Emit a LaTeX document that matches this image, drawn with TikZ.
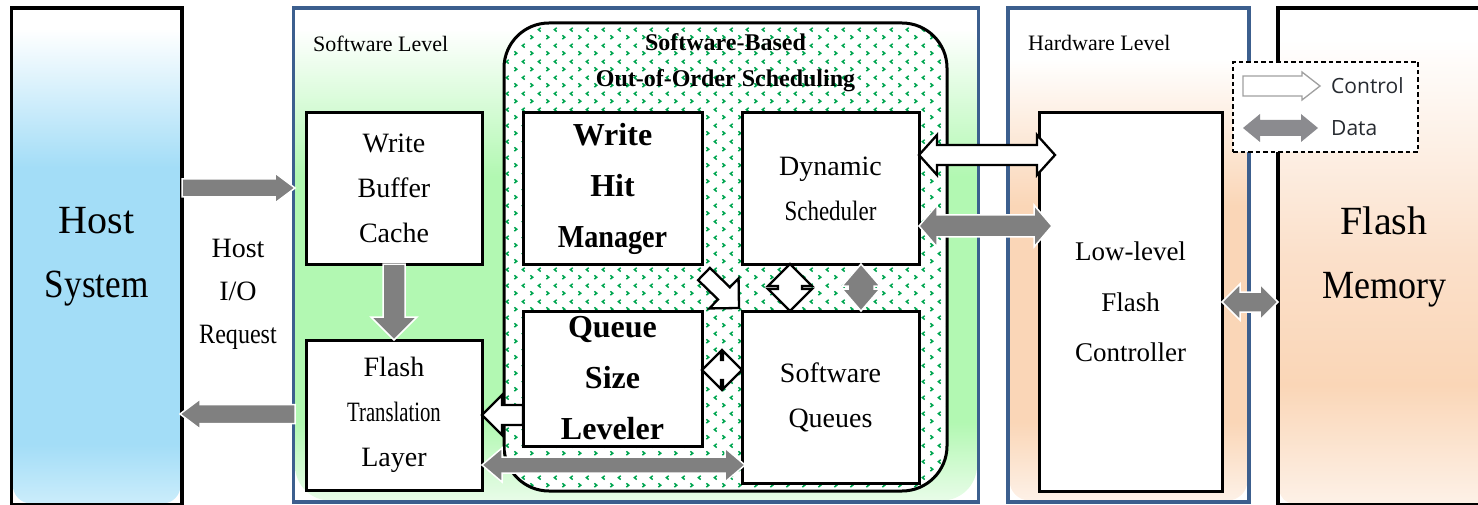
\documentclass[tikz,border=0pt]{standalone}
\usepackage{fontspec}
\usepackage{graphicx}
\setmainfont{Liberation Serif}
\newfontfamily\legendfont{Open Sans}
\usetikzlibrary{calc,patterns,backgrounds}

\definecolor{hostblue}{HTML}{A3DDF7}
\definecolor{hostlite}{HTML}{CBEDFB}
\definecolor{swgreen}{HTML}{B2F8B2}
\definecolor{swlite}{HTML}{E8FCE8}
\definecolor{peach}{HTML}{FAD6B7}
\definecolor{peachmid}{HTML}{FBE0CA}
\definecolor{peachlite}{HTML}{FDF1E7}
\definecolor{levelblue}{HTML}{3C5F8E}
\definecolor{datagray}{HTML}{808080}
\definecolor{leggray}{HTML}{8B8B8F}
\definecolor{legline}{HTML}{A0A0A0}
\definecolor{legtext}{HTML}{262A30}
\definecolor{dotgreen}{HTML}{00A651}

% vertical fills of the four level panels (bottom -> top)
\pgfdeclareverticalshading{hostfill}{100bp}{color(0bp)=(hostlite); color(25bp)=(hostlite); color(31bp)=(hostblue); color(59bp)=(hostblue); color(73bp)=(white); color(100bp)=(white)}
\pgfdeclareverticalshading{swfill}{100bp}{color(0bp)=(swlite); color(25bp)=(swlite); color(33bp)=(swgreen); color(58bp)=(swgreen); color(73bp)=(white); color(100bp)=(white)}
\pgfdeclareverticalshading{hwfill}{100bp}{color(0bp)=(peachlite); color(25bp)=(peachlite); color(33bp)=(peach); color(55bp)=(peach); color(70bp)=(white); color(100bp)=(white)}
\pgfdeclareverticalshading{fmfill}{100bp}{color(0bp)=(peachlite); color(25bp)=(peachlite); color(37bp)=(peach); color(50bp)=(peachmid); color(72bp)=(white); color(100bp)=(white)}

% small green chevrons for the scheduling area
\pgfdeclarepatterninherentlycolored{oooDots}{\pgfpointorigin}{\pgfqpoint{16pt}{16pt}}{\pgfqpoint{16pt}{16pt}}{%
  \pgfsetcolor{dotgreen}\pgfsetlinewidth{1.6pt}%
  \pgfpathmoveto{\pgfqpoint{2.5pt}{6pt}}\pgfpathlineto{\pgfqpoint{5pt}{4pt}}\pgfpathlineto{\pgfqpoint{2.5pt}{2pt}}%
  \pgfpathmoveto{\pgfqpoint{13.5pt}{14pt}}\pgfpathlineto{\pgfqpoint{11pt}{12pt}}\pgfpathlineto{\pgfqpoint{13.5pt}{10pt}}%
  \pgfusepath{stroke}}

\tikzset{
  fat w/.store in=\fatW, fat h/.store in=\fatH, fat l/.store in=\fatL,
  fat w=10pt, fat h=20pt, fat l=18pt,
  one head/.style={to path={
      ($(\tikztostart)!\fatW!90:(\tikztotarget)$)
   -- ($(\tikztotarget)!\fatL!(\tikztostart)!\fatW!-90:(\tikztostart)$)
   -- ($(\tikztotarget)!\fatL!(\tikztostart)!\fatH!-90:(\tikztostart)$)
   -- (\tikztotarget)
   -- ($(\tikztotarget)!\fatL!(\tikztostart)!\fatH!90:(\tikztostart)$)
   -- ($(\tikztotarget)!\fatL!(\tikztostart)!\fatW!90:(\tikztostart)$)
   -- ($(\tikztostart)!\fatW!-90:(\tikztotarget)$)
   -- cycle}},
  two heads/.style={to path={
      (\tikztostart)
   -- ($(\tikztostart)!\fatL!(\tikztotarget)!\fatH!90:(\tikztotarget)$)
   -- ($(\tikztostart)!\fatL!(\tikztotarget)!\fatW!90:(\tikztotarget)$)
   -- ($(\tikztotarget)!\fatL!(\tikztostart)!\fatW!-90:(\tikztostart)$)
   -- ($(\tikztotarget)!\fatL!(\tikztostart)!\fatH!-90:(\tikztostart)$)
   -- (\tikztotarget)
   -- ($(\tikztotarget)!\fatL!(\tikztostart)!\fatH!90:(\tikztostart)$)
   -- ($(\tikztotarget)!\fatL!(\tikztostart)!\fatW!90:(\tikztostart)$)
   -- ($(\tikztostart)!\fatL!(\tikztotarget)!\fatW!-90:(\tikztotarget)$)
   -- ($(\tikztostart)!\fatL!(\tikztotarget)!\fatH!-90:(\tikztotarget)$)
   -- cycle}},
  ctrl/.style={draw=black, fill=white, line width=2.3pt, line join=miter},
  data/.style={draw=white, fill=datagray, line width=1.5pt, line join=miter},
  region/.style={draw=#1, line width=3.5pt, inner sep=0pt, outer sep=0pt, align=center},
  blk/.style={draw=black, line width=3pt, fill=white, inner sep=0pt, outer sep=0pt,
    align=center, font=\fontsize{28}{45}\selectfont},
  bold/.style={font=\bfseries\fontsize{32}{51}\selectfont},
  caption/.style={font=\fontsize{22}{26}\selectfont, anchor=base west, inner sep=0pt},
  legtext/.style={font=\legendfont\fontsize{21}{24}\selectfont, text=legtext, anchor=west, inner sep=0pt},
}

\begin{document}
\begin{tikzpicture}[x=1pt, y=-1pt]
\useasboundingbox (0,0) rectangle (1478,505);

% level panels
\node[region=black, minimum width=170.5pt, minimum height=497pt,
      font=\fontsize{40}{64}\selectfont] (host) at (96.75,256.5)
      {Host\\\scalebox{0.88}[1]{System}};
\node[region=levelblue, minimum width=685pt, minimum height=494pt] (sw) at (636,255) {};
\node[region=levelblue, minimum width=241pt, minimum height=494pt] (hw) at (1128.5,255) {};
\node[region=black, minimum width=212pt, minimum height=497pt,
      font=\fontsize{40}{64}\selectfont] (fm) at (1384,256.5)
      {Flash\\\scalebox{0.9}[1]{Memory}};

\begin{scope}[on background layer]
  \shade[shading=hostfill, rounded corners=18pt]
    ($(host.north west)+(1.5,1.5)$) rectangle ($(host.south east)+(-1.5,-1.5)$);
  \shade[shading=swfill, rounded corners=35pt]
    ($(sw.north west)+(1.5,1.5)$) rectangle ($(sw.south east)+(-1.5,-1.5)$);
  \shade[shading=hwfill, rounded corners=20pt]
    ($(hw.north west)+(1.5,1.5)$) rectangle ($(hw.south east)+(-1.5,-1.5)$);
  \shade[shading=fmfill, rounded corners=14pt]
    ($(fm.north west)+(1.5,1.5)$) rectangle ($(fm.south east)+(-1.5,-1.5)$);
\end{scope}

\node[caption] (swcap) at (313,52) {Software Level};
\node[caption] (hwcap) at (1028,51) {Hardware Level};
\node[font=\fontsize{28}{43}\selectfont, align=center] (req) at (238,294)
  {Host\\I/O\\\scalebox{0.86}[1]{Request}};

% scheduling area
\node[draw=black, line width=3pt, rounded corners=45pt, inner sep=0pt, outer sep=0pt,
      minimum width=443pt, minimum height=468pt,
      preaction={fill=white}, pattern=oooDots] (ooo) at (725.5,257) {};
\node[font=\bfseries\fontsize{24}{36}\selectfont, align=center] (ooocap) at (725.5,63)
  {Software-Based\\Out-of-Order Scheduling};

% blocks
\node[blk, minimum width=176pt, minimum height=151pt] (wbc) at (394,188.5) {Write\\Buffer\\Cache};
\node[blk, minimum width=176pt, minimum height=150pt] (ftl) at (394,415)
  {Flash\\\scalebox{0.74}[1]{Translation}\\Layer};
\node[blk, bold, minimum width=179pt, minimum height=151pt] (whm) at (612.5,188.5)
  {Write\\Hit\\\scalebox{0.88}[1]{Manager}};
\node[blk, minimum width=177pt, minimum height=151pt] (ds) at (830.5,188.5)
  {Dynamic\\\scalebox{0.82}[1]{Scheduler}};
\node[blk, bold, minimum width=179pt, minimum height=135pt] (qsl) at (612.5,378.5)
  {Queue\\Size\\Leveler};
\node[blk, minimum width=177pt, minimum height=172pt] (sq) at (830.5,397) {Software\\Queues};
\node[blk, font=\fontsize{27}{50.5}\selectfont, minimum width=183pt, minimum height=378pt]
  (llfc) at (1130.5,302) {Low-level\\Flash\\Controller};

% connector levels
\coordinate (yIn) at (0,188);
\coordinate (yOut) at (0,414);
\coordinate (yCtl) at (0,155);
\coordinate (yDat) at (0,226);
\coordinate (yFm) at (0,302);
\coordinate (yLev) at (0,370);
\coordinate (yFtl) at (0,415);
\coordinate (yBus) at (0,465);
\coordinate (xCtl) at (790,0);
\coordinate (xDat) at (861,0);

% data paths
\path[data, one head, fat w=9pt, fat h=15pt, fat l=20pt]
  (host.east |- yIn) to ($(sw.west |- yIn)+(1.5,0)$);
\path[data, one head, fat w=9.5pt, fat h=15pt, fat l=20pt]
  ($(sw.west |- yOut)+(1.5,0)$) to ($(host.east |- yOut)+(-2,0)$);
\path[data, one head, fat w=11pt, fat h=23pt, fat l=23pt] (wbc.south) to (ftl.north);
\path[data, two heads, fat w=11pt, fat h=21pt, fat l=18pt]
  (ds.east |- yDat) to ($(llfc.west |- yDat)+(13,0)$);
\path[data, two heads, fat w=10pt, fat h=18pt, fat l=18pt] (llfc.east |- yFm) to (fm.west |- yFm);
\path[data, two heads, fat w=13pt, fat h=19pt, fat l=22pt] (ds.south -| xDat) to (sq.north -| xDat);
\path[data, two heads, fat w=8pt, fat h=17pt, fat l=20pt]
  (ftl.east |- yBus) to ($(sq.west |- yBus)+(3,0)$);

% control paths
\path[ctrl, two heads, fat w=10pt, fat h=20pt, fat l=18pt]
  (ds.east |- yCtl) to ($(llfc.west |- yCtl)+(16,0)$);
\path[ctrl, one head, fat w=8.5pt, fat h=21pt, fat l=21pt]
  ($(whm.south east)+(2,10)$) to ($(sq.north west)+(-3,-3)$);
\path[ctrl, two heads, fat w=12pt, fat h=22pt, fat l=22pt] (ds.south -| xCtl) to (sq.north -| xCtl);
\path[ctrl, two heads, fat w=10pt, fat h=19pt, fat l=19pt] (qsl.east |- yLev) to (sq.west |- yLev);
\path[ctrl, one head, fat w=10pt, fat h=20pt, fat l=20pt] (qsl.west |- yFtl) to (ftl.east |- yFtl);

% legend
\node[draw=black, fill=white, line width=1.5pt, dash pattern=on 4.5pt off 3pt,
      minimum width=185pt, minimum height=90pt, inner sep=0pt] (legend) at (1325.5,107) {};
\coordinate (lgc1) at (1243,86);
\coordinate (lgc2) at (1320,86);
\coordinate (lgd1) at (1243,128);
\coordinate (lgd2) at (1318,128);
\path[draw=legline, fill=white, line width=1.3pt, one head, fat w=10pt, fat h=14pt, fat l=18pt]
  (lgc1) to (lgc2);
\path[fill=leggray, two heads, fat w=8pt, fat h=14pt, fat l=17pt] (lgd1) to (lgd2);
\node[legtext] (lgctext) at (1331,86) {Control};
\node[legtext] (lgdtext) at (1331,128) {Data};
\end{tikzpicture}
\end{document}
